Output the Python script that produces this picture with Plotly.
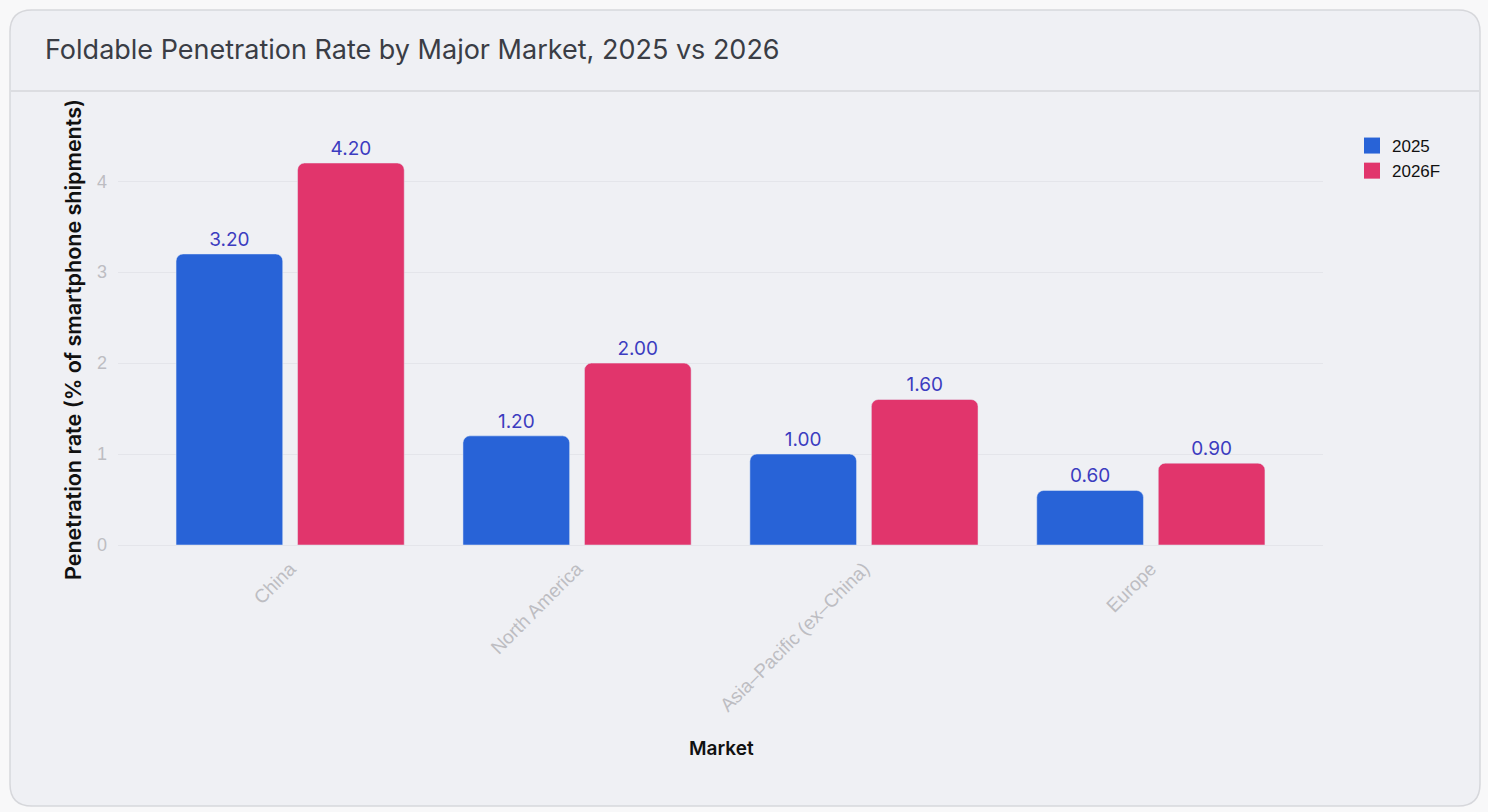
import plotly.graph_objects as go

markets = ["China", "North America", "Asia–Pacific (ex–China)", "Europe"]
rate_2025 = [3.20, 1.20, 1.00, 0.60]
rate_2026f = [4.20, 2.00, 1.60, 0.90]
series_names = ["2025", "2026F"]
series_colors = ["#2863d7", "#e1356c"]

W, H = 1488, 812
ML, MR, MT, MB = 118, 165, 143, 267
PW = W - ML - MR
PH = H - MT - MB


def px(x):
    return (x - ML) / PW


def py(y):
    return (H - MB - y) / PH


def rounded_rect(x0, y0, x1, y1, r):
    X0, X1, Y0, Y1 = px(x0), px(x1), py(y0), py(y1)
    rx, ry = r / PW, r / PH
    return (f"M {X0+rx},{Y0} L {X1-rx},{Y0} Q {X1},{Y0} {X1},{Y0-ry} "
            f"L {X1},{Y1+ry} Q {X1},{Y1} {X1-rx},{Y1} L {X0+rx},{Y1} "
            f"Q {X0},{Y1} {X0},{Y1+ry} L {X0},{Y0-ry} Q {X0},{Y0} {X0+rx},{Y0} Z")


label_font = dict(family="Inter, Liberation Sans, sans-serif", size=19, color="#3c3cc0")

fig = go.Figure()
for name, vals, col in zip(series_names, [rate_2025, rate_2026f], series_colors):
    fig.add_trace(go.Bar(
        name=name, x=markets, y=vals,
        marker=dict(color=col, cornerradius=7),
        text=[f"{v:.2f}" for v in vals], textposition="outside",
        textfont=label_font, cliponaxis=False, showlegend=False,
    ))
# legend entries with larger square swatches
for name, col in zip(series_names, series_colors):
    fig.add_trace(go.Scatter(
        name=name, x=[None], y=[None], mode="markers",
        marker=dict(symbol="square", size=19, color=col), showlegend=True,
    ))

fig.update_layout(
    width=W, height=H,
    margin=dict(l=ML, r=MR, t=MT, b=MB),
    paper_bgcolor="#f8f8f9",
    plot_bgcolor="rgba(0,0,0,0)",
    barmode="group",
    bargap=0.153,
    bargroupgap=0.122,
    title=dict(
        text="Foldable Penetration Rate by Major Market, 2025 vs 2026",
        x=45 / W, xanchor="left", xref="container",
        y=1 - 50 / H, yanchor="middle", yref="container",
        font=dict(family="Inter, sans-serif", size=27, color="#3a3d45"),
    ),
    legend=dict(
        x=px(1352), xanchor="left", y=py(128), yanchor="top",
        bgcolor="rgba(0,0,0,0)",
        font=dict(family="Liberation Sans, Arial, sans-serif", size=17, color="#111111"),
        itemsizing="trace", itemwidth=30, tracegroupgap=0,
    ),
    xaxis=dict(
        range=[-0.6, 3.6],
        tickangle=-45,
        tickfont=dict(family="Liberation Sans, Arial, sans-serif", size=19, color="#bdbdc2"),
        showgrid=False, zeroline=False, showline=False, ticks="",
        ticklabelstandoff=8,
    ),
    yaxis=dict(
        range=[0, 4.42],
        tick0=0, dtick=1,
        tickfont=dict(family="Liberation Sans, Arial, sans-serif", size=18, color="#bdbdc2"),
        showgrid=True, gridcolor="#e4e5ea", gridwidth=1,
        zeroline=True, zerolinecolor="#e4e5ea", zerolinewidth=1,
        showline=False, ticks="", ticklabelstandoff=10,
    ),
    shapes=[
        dict(type="path", xref="paper", yref="paper", layer="below",
             path=rounded_rect(10, 10, 1480, 806, 22),
             fillcolor="#eff0f4", line=dict(color="#d6d7db", width=1.5)),
        dict(type="line", xref="paper", yref="paper", layer="below",
             x0=px(11), x1=px(1479), y0=py(91), y1=py(91),
             line=dict(color="#d6d7db", width=1.5)),
    ],
    annotations=[
        dict(text="Penetration rate (% of smartphone shipments)",
             xref="paper", yref="paper", x=px(73), y=py(340),
             xanchor="center", yanchor="middle", textangle=-90, showarrow=False,
             font=dict(family="Inter, sans-serif", size=21.5, color="#111111", weight=600)),
        dict(text="Market",
             xref="paper", yref="paper", x=px(721), y=py(748),
             xanchor="center", yanchor="middle", showarrow=False,
             font=dict(family="Inter, sans-serif", size=19, color="#111111", weight=600)),
    ],
)

fig.write_html("out.html")
